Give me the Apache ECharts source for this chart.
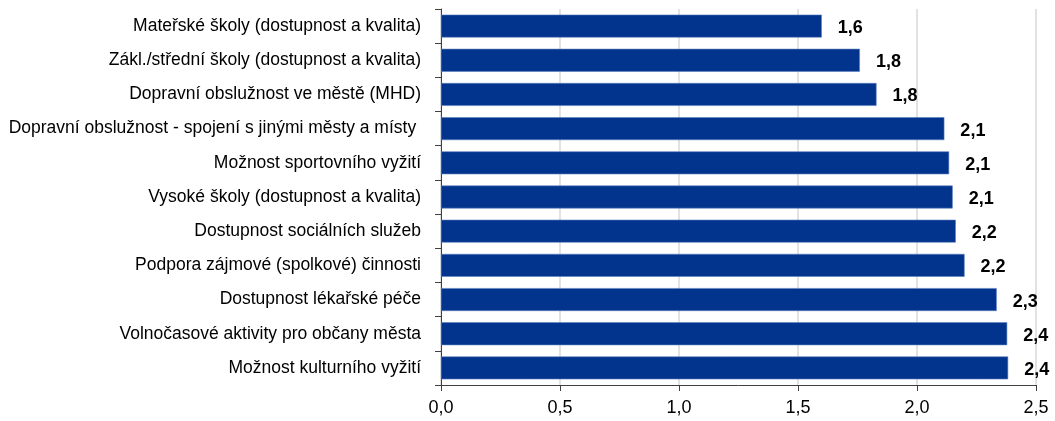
<!DOCTYPE html>
<html>
<head>
<meta charset="utf-8">
<script src="https://cdn.jsdelivr.net/npm/echarts@6/dist/echarts.min.js"></script>
<style>
  html, body { margin: 0; padding: 0; background: #ffffff; }
  #chart { width: 1055px; height: 421px; }
</style>
</head>
<body>
<div id="chart"></div>
<script>
// Categories, top to bottom
const categories = [
  'Mateřské školy (dostupnost a kvalita)',
  'Zákl./střední školy (dostupnost a kvalita)',
  'Dopravní obslužnost ve městě (MHD)',
  'Dopravní obslužnost - spojení s jinými městy a místy ',
  'Možnost sportovního vyžití',
  'Vysoké školy (dostupnost a kvalita)',
  'Dostupnost sociálních služeb',
  'Podpora zájmové (spolkové) činnosti',
  'Dostupnost lékařské péče',
  'Volnočasové aktivity pro občany města',
  'Možnost kulturního vyžití'
];

// Average score per category
const values = [1.60, 1.76, 1.83, 2.115, 2.135, 2.15, 2.163, 2.20, 2.335, 2.379, 2.383];

// Value-axis range
const axisMin = 0.0;
const axisMax = 2.5;
const axisStep = 0.5;

const FONT = '"Liberation Sans Narrow", "Arial Narrow", "Liberation Sans", Arial, sans-serif';
const fmt = v => v.toFixed(1).replace('.', ',');

const chart = echarts.init(document.getElementById('chart'), null, { renderer: 'canvas' });
chart.setOption({
  animation: false,
  backgroundColor: '#ffffff',
  grid: { left: 441, right: 19, top: 9, bottom: 36, containLabel: false, outerBoundsMode: 'none' },
  xAxis: {
    type: 'value',
    min: axisMin,
    max: axisMax,
    interval: axisStep,
    axisLine: { show: true, lineStyle: { color: '#404040', width: 1 } },
    axisTick: { show: true, length: 6, lineStyle: { color: '#404040' } },
    axisLabel: {
      color: '#000000', fontFamily: FONT, fontSize: 18, margin: 14,
      formatter: v => fmt(v)
    },
    splitLine: { show: true, lineStyle: { color: '#d9d9d9', width: 1.5 } }
  },
  yAxis: {
    type: 'category',
    inverse: true,
    data: categories,
    axisLine: { show: true, lineStyle: { color: '#404040', width: 1 } },
    axisTick: { show: true, length: 6, lineStyle: { color: '#404040' } },
    axisLabel: { color: '#000000', fontFamily: FONT, fontSize: 17.5, margin: 20 },
    splitLine: { show: false }
  },
  series: [{
    type: 'bar',
    data: values,
    barCategoryGap: '33%',
    itemStyle: { color: '#02338d', borderColor: '#5d7fc0', borderWidth: 0.6 },
    label: {
      show: true,
      position: 'right',
      distance: 16,
      offset: [0, 2],
      color: '#000000',
      fontFamily: FONT,
      fontWeight: 'bold',
      fontSize: 18,
      formatter: p => fmt(p.value)
    }
  }]
});
</script>
</body>
</html>
